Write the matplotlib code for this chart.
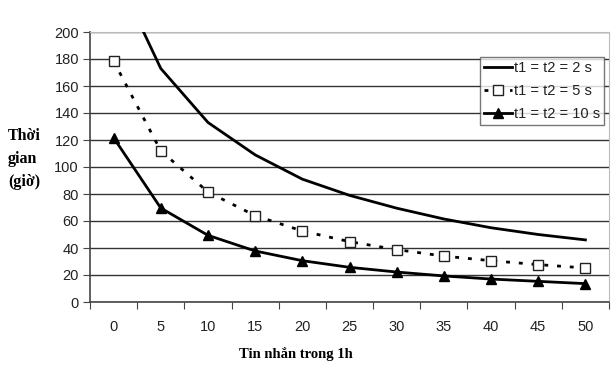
import matplotlib.pyplot as plt

# donnees
categories = ['0', '5', '10', '15', '20', '25', '30', '35', '40', '45', '50']
t_2s = [247, 173, 133, 109, 91, 79, 69.5, 61.5, 55, 50, 46]
t_5s = [178.5, 112, 81.5, 64, 52.6, 44.7, 38.8, 34, 30.6, 27.7, 25.2]
t_10s = [121.7, 69.6, 49.4, 37.8, 30.6, 25.7, 22.2, 19.3, 17, 15.3, 13.6]
y_ticks = [0, 20, 40, 60, 80, 100, 120, 140, 160, 180, 200]

fig = plt.figure(figsize=(6.11, 3.77), dpi=100)
ax = fig.add_axes([90/611, 1-302/377, 519/611, 270/377])

x = range(len(categories))
ax.plot(x, t_2s, color='black', lw=2, label='t1 = t2 = 2 s', zorder=3)
ax.plot(x, t_5s, color='black', lw=2, linestyle=(0, (1.4, 3.2)),
        marker='s', markersize=7, markerfacecolor='white', markeredgecolor='#222',
        markeredgewidth=1, label='t1 = t2 = 5 s', zorder=3)
ax.plot(x, t_10s, color='black', lw=2, marker='^', markersize=7,
        label='t1 = t2 = 10 s', zorder=3)

ax.set_xlim(-0.5, len(categories) - 0.5)
ax.set_ylim(0, 200)
ax.set_yticks(y_ticks)
ax.set_yticklabels([str(v) for v in y_ticks], fontsize=10.5, family='Liberation Sans', color='#222')
ax.yaxis.grid(True, color='#333', lw=1)
ax.set_axisbelow(True)

# graduations entre les categories, etiquettes au centre
ax.set_xticks([i - 0.5 for i in range(len(categories) + 1)])
ax.set_xticklabels([])
ax.set_xticks(list(x), minor=True)
ax.set_xticklabels(categories, minor=True, fontsize=10.5, family='Liberation Sans', color='#222')
ax.tick_params(axis='x', which='minor', length=0, pad=13)
ax.tick_params(axis='x', which='major', length=5, direction='out', color='#444')
ax.tick_params(axis='y', length=5, direction='out', color='#444', pad=3)

for s in ['left', 'bottom']:
    ax.spines[s].set_color('#444')
    ax.spines[s].set_linewidth(1.2)
for s in ['top', 'right']:
    ax.spines[s].set_color('#bbb')

leg = fig.legend(loc='upper left', bbox_to_anchor=(480/611, 1-57/377),
                 prop={'family': 'Liberation Sans', 'size': 10.5},
                 frameon=True, fancybox=False, handlelength=1.9, handletextpad=0.1,
                 borderpad=0.3, labelspacing=0.6, borderaxespad=0)
leg.get_frame().set_edgecolor('#555')
leg.get_frame().set_linewidth(1)
for t in leg.get_texts():
    t.set_color('#222')

fig.text(8/611, 1-159/377, 'Thời\ngian\n(giờ)', fontsize=11.5, fontweight='bold',
         family='Liberation Serif', ha='left', va='center', linespacing=1.6)
fig.text(296/611, 1-354/377, 'Tin nhắn trong 1h', fontsize=10.5, fontweight='bold',
         family='Liberation Serif', ha='center', va='center')

fig.savefig('out.png', dpi=100)
